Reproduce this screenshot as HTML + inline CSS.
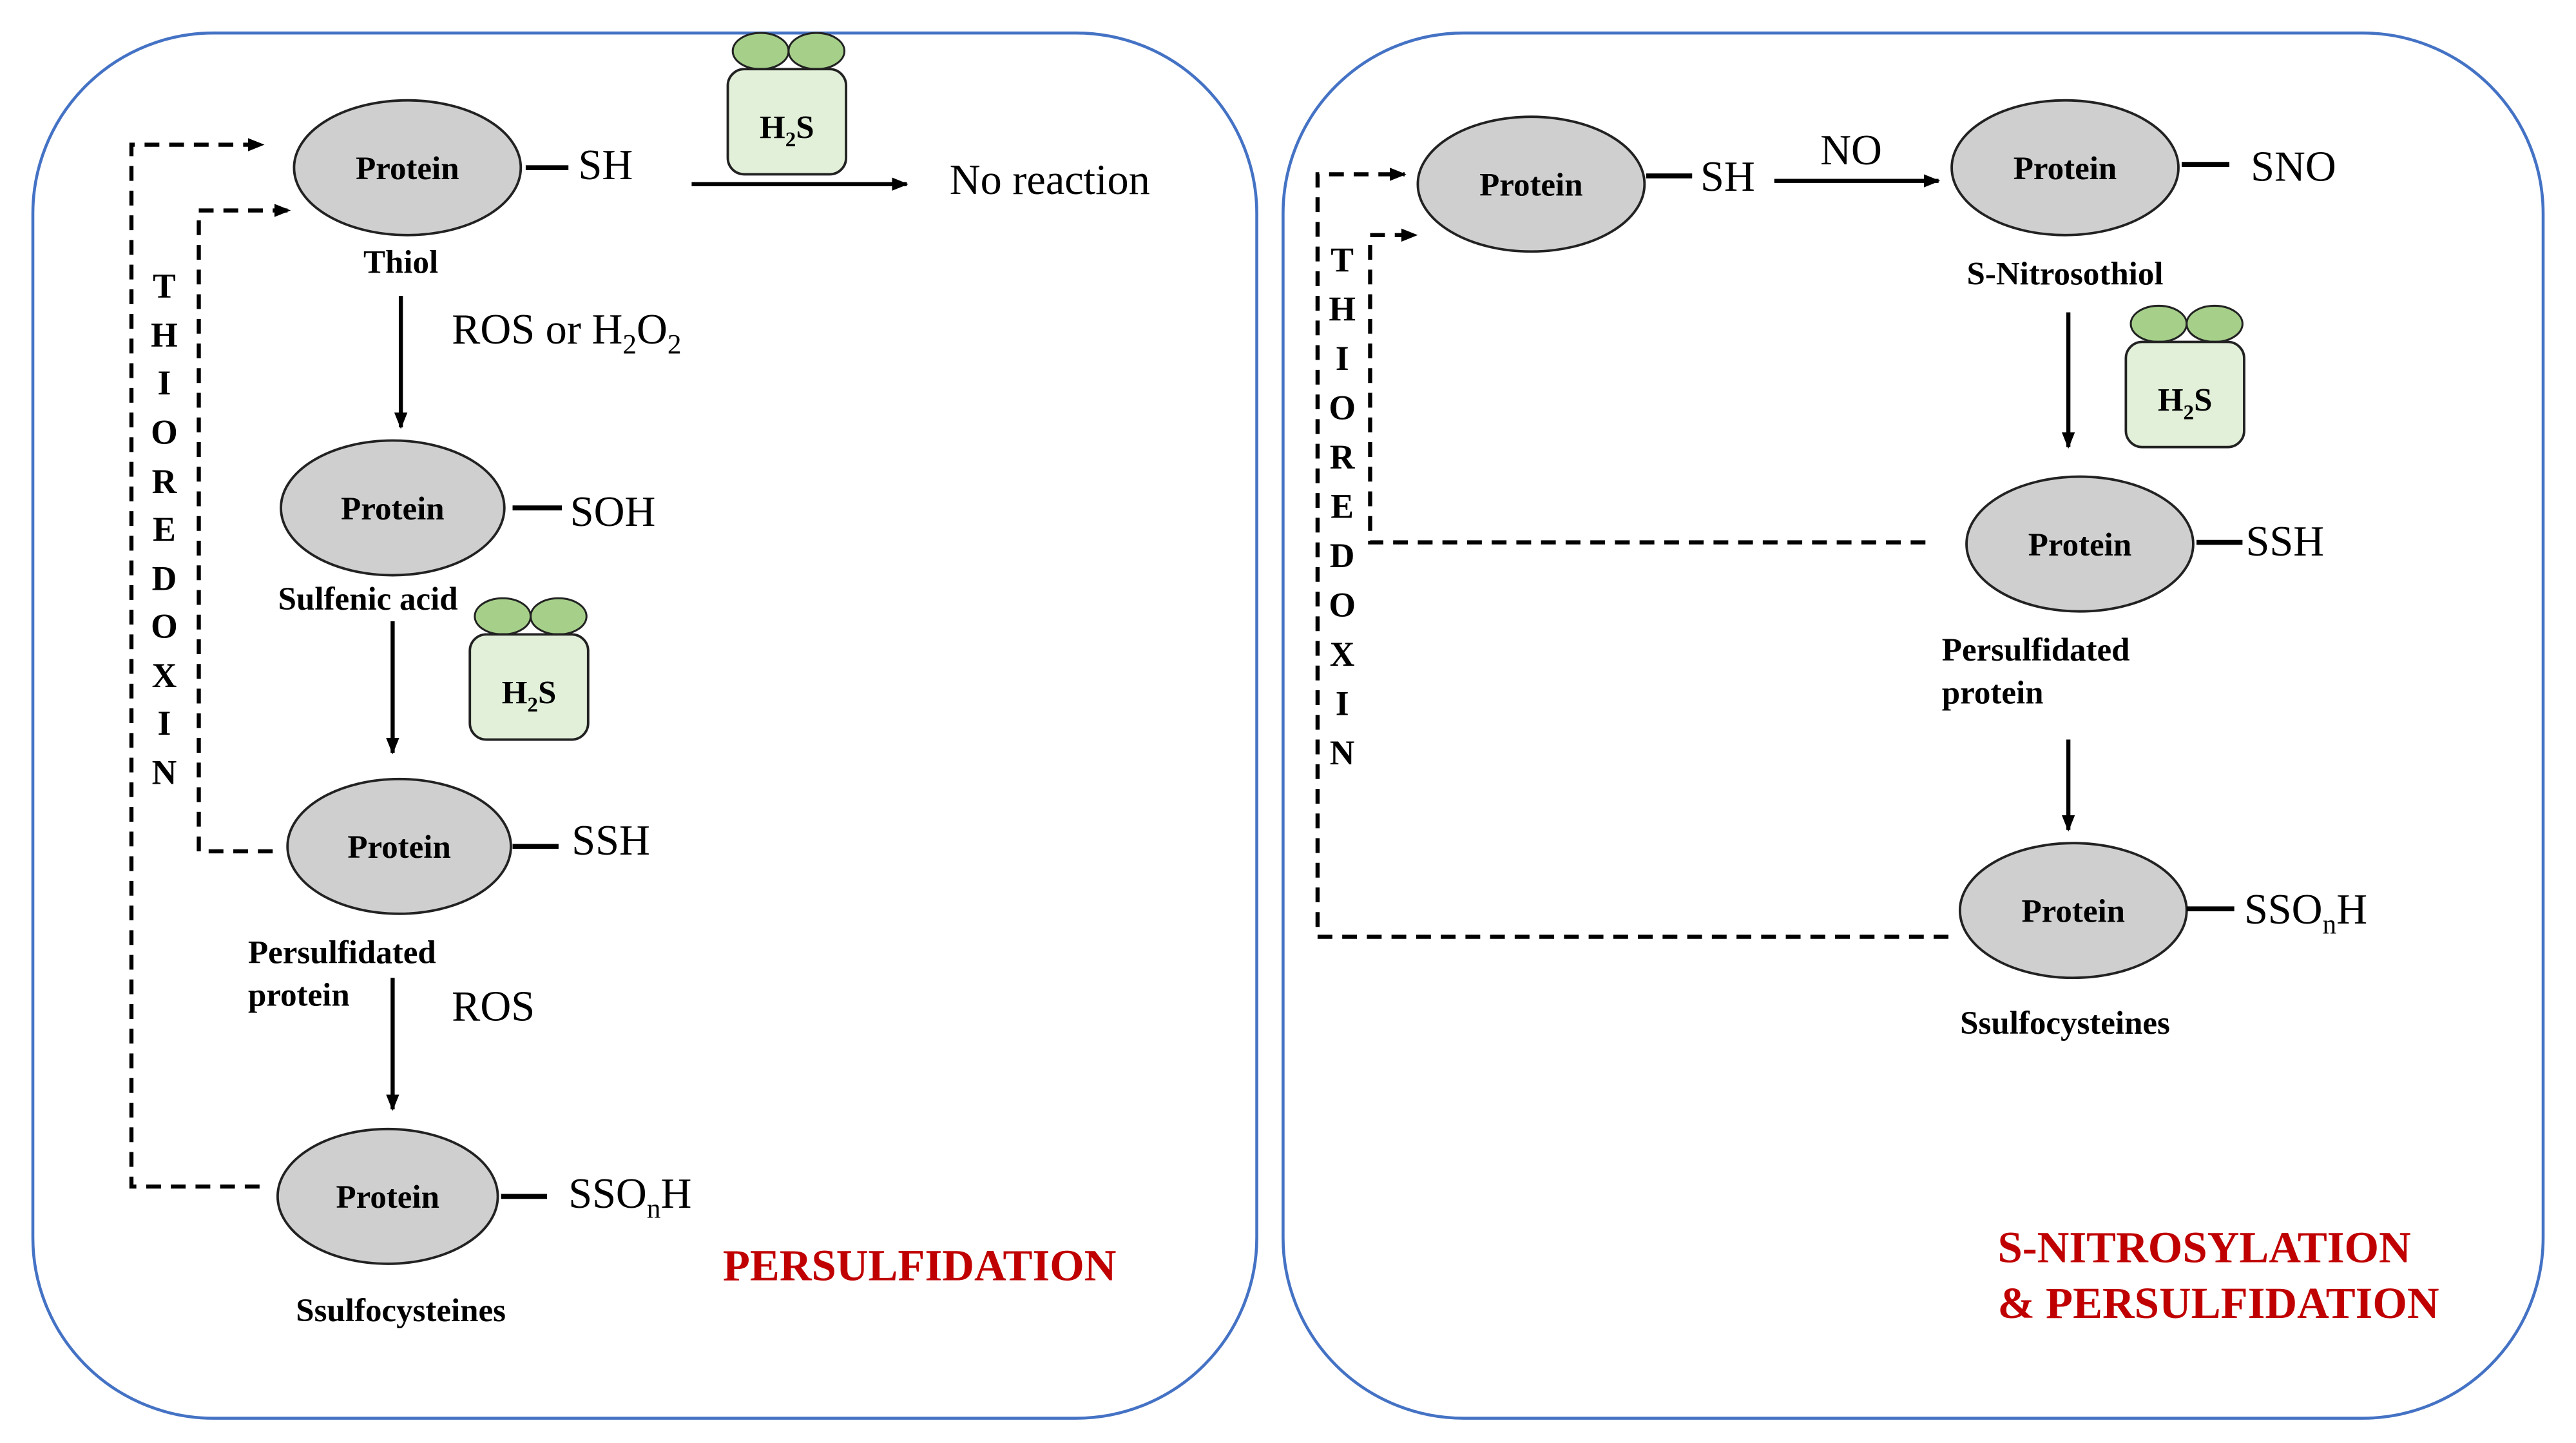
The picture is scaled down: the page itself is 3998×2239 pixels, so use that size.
<!DOCTYPE html>
<html><head><meta charset="utf-8"><style>
html,body{margin:0;padding:0;background:#fff}
svg{display:block}
text{font-family:"Liberation Serif",serif}
.b{font-weight:bold}
</style></head><body>
<svg width="3998" height="2239" viewBox="0 0 1568 878" xmlns="http://www.w3.org/2000/svg">
<defs>
<marker id="ah" markerWidth="10" markerHeight="10" refX="9" refY="5" orient="auto" markerUnits="userSpaceOnUse"><path d="M0,1 L10,5 L0,9 Z" fill="#000"/></marker>
<g id="h2s">
<ellipse cx="-16" cy="-11" rx="17" ry="11" fill="#a6d08a" stroke="#222" stroke-width="1.2"/>
<ellipse cx="18" cy="-11" rx="17" ry="11" fill="#a6d08a" stroke="#222" stroke-width="1.2"/>
<rect x="-36" y="0" width="72" height="64" rx="10" fill="#e2f0d9" stroke="#222" stroke-width="1.5"/>
<text x="0" y="42" text-anchor="middle" class="b" font-size="20">H<tspan font-size="13" dy="5">2</tspan><tspan dy="-5">S</tspan></text>
</g>
</defs>
<rect x="20" y="20" width="745" height="843" rx="110" fill="none" stroke="#4472c4" stroke-width="1.8"/>
<rect x="781" y="20" width="767" height="843" rx="110" fill="none" stroke="#4472c4" stroke-width="1.8"/>

<g fill="#d0cfd0" stroke="#222" stroke-width="1.5">
<ellipse cx="248" cy="102" rx="69" ry="41"/>
<ellipse cx="239" cy="309" rx="68" ry="41"/>
<ellipse cx="243" cy="515" rx="68" ry="41"/>
<ellipse cx="236" cy="728" rx="67" ry="41"/>
<ellipse cx="932" cy="112" rx="69" ry="41"/>
<ellipse cx="1257" cy="102" rx="69" ry="41"/>
<ellipse cx="1266" cy="331" rx="69" ry="41"/>
<ellipse cx="1262" cy="554" rx="69" ry="41"/>
</g>
<g class="b" font-size="20" text-anchor="middle" font-weight="bold">
<text x="248" y="109">Protein</text>
<text x="239" y="316">Protein</text>
<text x="243" y="522">Protein</text>
<text x="236" y="735">Protein</text>
<text x="932" y="119">Protein</text>
<text x="1257" y="109">Protein</text>
<text x="1266" y="338">Protein</text>
<text x="1262" y="561">Protein</text>
<text x="244" y="166">Thiol</text>
<text x="224" y="371">Sulfenic acid</text>
<text x="244" y="804">Ssulfocysteines</text>
<text x="1257" y="173">S-Nitrosothiol</text>
<text x="1257" y="629">Ssulfocysteines</text>
</g>
<g font-size="20" font-weight="bold">
<text x="151" y="586">Persulfidated</text>
<text x="151" y="612">protein</text>
<text x="1182" y="402">Persulfidated</text>
<text x="1182" y="428">protein</text>
</g>

<g stroke="#000" stroke-width="3">
<line x1="320" y1="102" x2="346" y2="102"/>
<line x1="312" y1="309" x2="342" y2="309"/>
<line x1="312" y1="515" x2="340" y2="515"/>
<line x1="305" y1="728" x2="333" y2="728"/>
<line x1="1002" y1="107" x2="1030" y2="107"/>
<line x1="1328" y1="100" x2="1357" y2="100"/>
<line x1="1337" y1="330" x2="1365" y2="330"/>
<line x1="1331" y1="553" x2="1360" y2="553"/>
</g>
<g stroke="#000" stroke-width="2.5" marker-end="url(#ah)">
<line x1="421" y1="112" x2="552" y2="112"/>
<line x1="244" y1="180" x2="244" y2="260"/>
<line x1="239" y1="378" x2="239" y2="458"/>
<line x1="239" y1="595" x2="239" y2="675"/>
<line x1="1080" y1="110" x2="1180" y2="110"/>
<line x1="1259" y1="190" x2="1259" y2="272"/>
<line x1="1259" y1="450" x2="1259" y2="505"/>
</g>
<g fill="none" stroke="#000" stroke-width="2.5" stroke-dasharray="9,6" marker-end="url(#ah)">
<polyline points="158,722 80,722 80,88 160,88"/>
<polyline points="166,518 121,518 121,128 176,128"/>
<polyline points="1186,570 802,570 802,106 855,106"/>
<polyline points="1172,330 834,330 834,143 862,143"/>
</g>

<g font-size="26">
<text x="352" y="109">SH</text>
<text x="578" y="118">No reaction</text>
<text x="275" y="209">ROS or H<tspan font-size="17" dy="6">2</tspan><tspan dy="-6">O</tspan><tspan font-size="17" dy="6">2</tspan></text>
<text x="347" y="320">SOH</text>
<text x="348" y="520">SSH</text>
<text x="275" y="621">ROS</text>
<text x="346" y="735">SSO<tspan font-size="17" dy="6">n</tspan><tspan dy="-6">H</tspan></text>
<text x="1035" y="116">SH</text>
<text x="1108" y="100">NO</text>
<text x="1370" y="110">SNO</text>
<text x="1367" y="338">SSH</text>
<text x="1366" y="562">SSO<tspan font-size="17" dy="6">n</tspan><tspan dy="-6">H</tspan></text>
</g>

<use href="#h2s" x="479" y="42"/>
<use href="#h2s" x="322" y="386"/>
<use href="#h2s" x="1330" y="208"/>

<g font-size="21" font-weight="bold" text-anchor="middle">
<text x="100" y="181">T</text><text x="100" y="211">H</text><text x="100" y="240">I</text><text x="100" y="270">O</text><text x="100" y="300">R</text><text x="100" y="329">E</text><text x="100" y="359">D</text><text x="100" y="388">O</text><text x="100" y="418">X</text><text x="100" y="447">I</text><text x="100" y="477">N</text>
<text x="817" y="165">T</text><text x="817" y="195">H</text><text x="817" y="225">I</text><text x="817" y="255">O</text><text x="817" y="285">R</text><text x="817" y="315">E</text><text x="817" y="345">D</text><text x="817" y="375">O</text><text x="817" y="405">X</text><text x="817" y="435">I</text><text x="817" y="465">N</text>
</g>

<g font-size="27" font-weight="bold" fill="#c00000">
<text x="440" y="779">PERSULFIDATION</text>
<text x="1216" y="768">S-NITROSYLATION</text>
<text x="1216" y="802">&amp; PERSULFIDATION</text>
</g>
</svg>
</body></html>
